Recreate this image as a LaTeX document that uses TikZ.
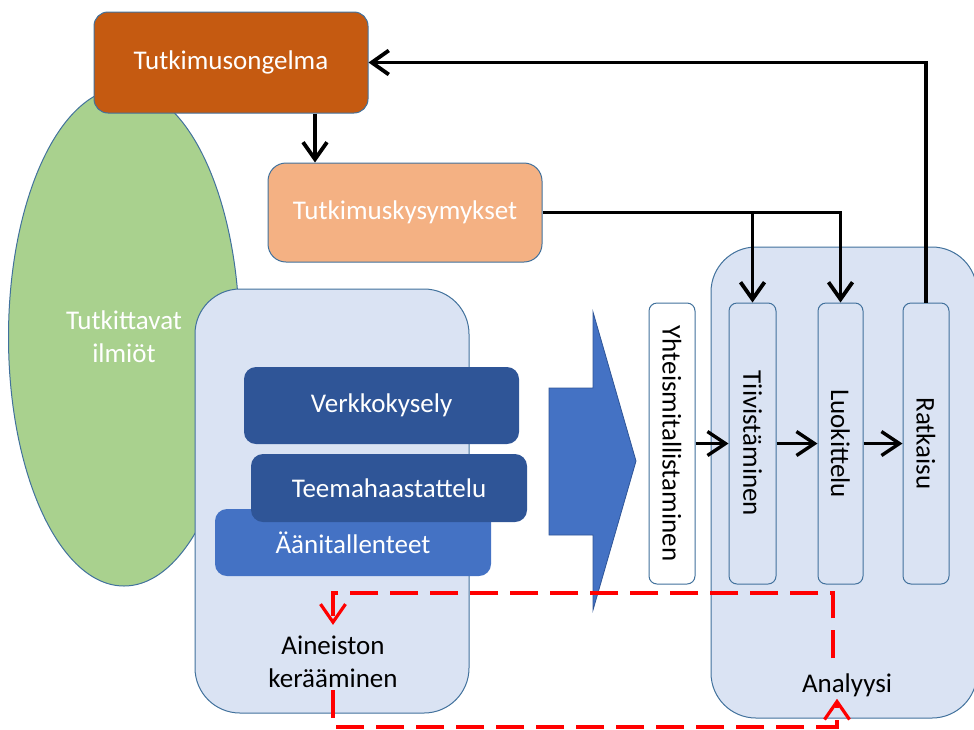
\documentclass[tikz,border=0pt]{standalone}
\usepackage{fontspec}
\setmainfont{Carlito}
\usetikzlibrary{arrows.meta,shapes.geometric}

\definecolor{rust}{HTML}{C55A11}
\definecolor{peach}{HTML}{F4B183}
\definecolor{leaf}{HTML}{A9D18E}
\definecolor{pale}{HTML}{DAE3F3}
\definecolor{rim}{HTML}{41719C}
\definecolor{navy}{HTML}{2F5597}
\definecolor{mid}{HTML}{4472C4}

\tikzset{
  rbox/.style={draw=rim, line width=1pt, rectangle, inner sep=0pt},
  wtext/.style={text=white},
  panel/.style={rbox, fill=pale, rounded corners=45pt},
  method/.style={rectangle, inner sep=0pt, rounded corners=12pt, text=white},
  stage/.style={rbox, fill=pale, rounded corners=8pt, rotate=-90,
                minimum width=281pt},
  blk/.style={line width=3.8pt, -{Straight Barb[length=17pt,width=24pt]}},
  blkh/.style={line width=3.4pt, -{Straight Barb[length=18pt,width=24pt]}},
  reddash/.style={draw=red, line width=3.2pt, dash pattern=on 28pt off 12pt,
                  -{Straight Barb[length=18pt,width=25pt]}}
}

\begin{document}
\begin{tikzpicture}[x=1pt, y=-1pt, font=\fontsize{27}{33}\selectfont]
\useasboundingbox (0,0) rectangle (974,729);

% phenomena ellipse (background)
\node[ellipse, draw=rim, line width=1pt, fill=leaf, inner sep=0pt,
      minimum width=231pt, minimum height=498pt, text=white, align=center]
      (ilm) at (124,337) {Tutkittavat\\ilmiöt};

% research problem and questions
\node[rbox, fill=rust, rounded corners=14pt, minimum width=274pt,
      minimum height=101pt, wtext] (prob) at (231,62.5) {Tutkimusongelma};
\node[rbox, fill=peach, rounded corners=18pt, minimum width=274pt,
      minimum height=99pt, wtext] (ques) at (405,212.5) {Tutkimuskysymykset};

% data collection panel
\node[panel, minimum width=274pt, minimum height=424pt] (left) at (332,501) {};
\node[method, fill=mid, minimum width=276pt, minimum height=67pt]
      (rec) at (353,542.5) {Äänitallenteet};
\node[method, fill=navy, minimum width=276pt, minimum height=68pt]
      (int) at (389,488) {Teemahaastattelu};
\node[method, fill=navy, minimum width=275pt, minimum height=77pt]
      (web) at (381.5,405.5) {Verkkokysely};
\node[align=center, inner sep=2pt] (ai) at (333,662) {Aineiston\\kerääminen};

% block arrow
\draw[draw=navy, line width=0.8pt, fill=mid]
  (549,388) -- (593,388) -- (593,312) -- (636,461) -- (593,610)
  -- (593,535) -- (549,535) -- cycle;

% analysis panel
\node[panel, minimum width=266pt, minimum height=471pt] (right) at (844,482.5) {};
\node[stage, fill=white, minimum height=46pt] (yht) at (672,443.5) {Yhteismitallistaminen};
\node[stage, minimum height=47pt] (tii) at (752.5,443.5) {Tiivistäminen};
\node[stage, minimum height=45pt] (luo) at (840.5,443.5) {Luokittelu};
\node[stage, minimum height=46pt] (rat) at (926,443.5) {Ratkaisu};
\node[inner sep=2pt] (an) at (847,685) {Analyysi};

% process connectors
\coordinate (d1) at (315,0);
\draw[blk] (prob.south -| d1) -- (ques.north -| d1);
\draw[blk] (ques.east) -| (luo.west);
\draw[blk] (ques.east -| tii.west) -- (tii.west);
\draw[blk] (rat.west) |- (prob.east);
\draw[blkh] (yht.north) -- (tii.south);
\draw[blkh] (tii.north) -- (luo.south);
\draw[blkh] (luo.north) -- (rat.south);

% feedback loop between collection and analysis
\coordinate (r1) at (833,593);
\coordinate (b1) at (837,727);
\draw[reddash] ([yshift=13pt]an.north -| r1) -- (r1) -| ([yshift=9pt]ai.north);
\draw[reddash] (ai.south) |- (b1) -- (an.south -| b1);
\end{tikzpicture}
\end{document}
